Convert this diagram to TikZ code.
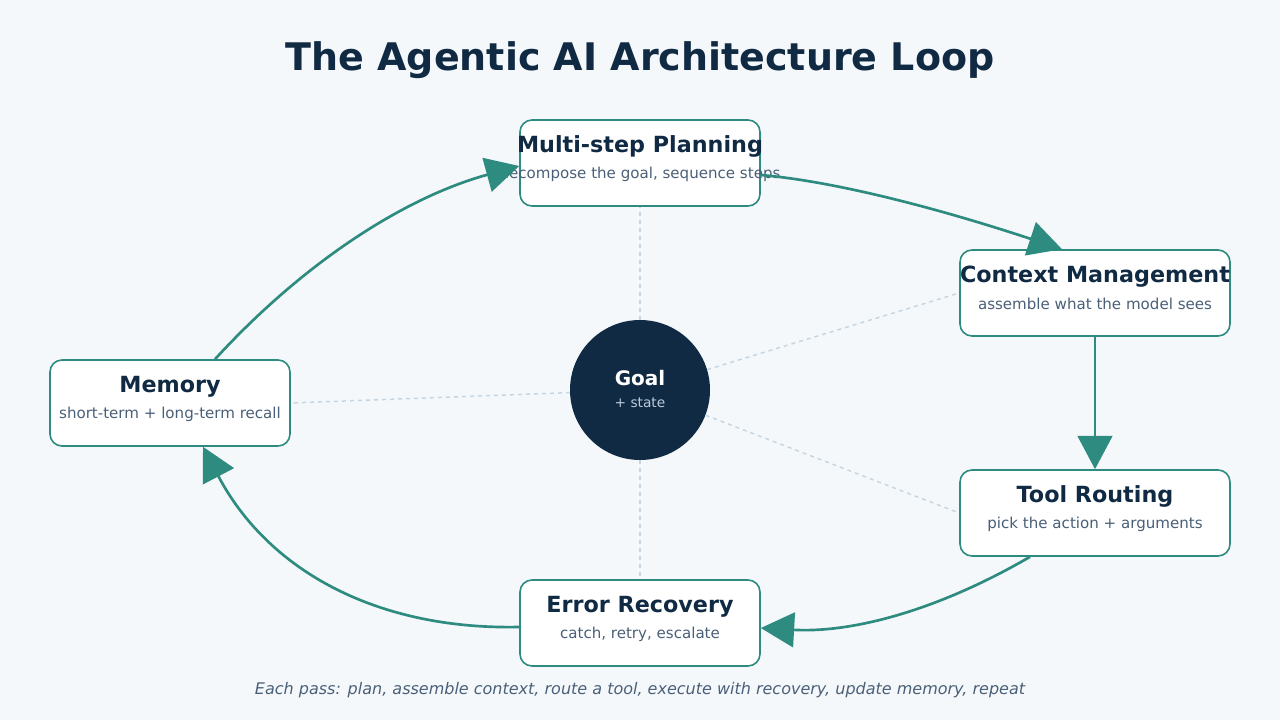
\documentclass[tikz,border=0pt]{standalone}
\usepackage{fontspec}
\setmainfont{DejaVu Sans}
\usetikzlibrary{arrows.meta,positioning}
\definecolor{loopbg}{HTML}{F5F8FB}
\definecolor{loopnavy}{HTML}{102A43}
\definecolor{loopteal}{HTML}{2E8B80}
\definecolor{loopgray}{HTML}{4A6078}
\definecolor{loopdash}{HTML}{C5D6E2}
\definecolor{loopsoft}{HTML}{BCCCDC}

\begin{document}
\begin{tikzpicture}[
  x=0.75pt,y=-0.75pt,
  stage/.style={draw=loopteal,line width=1.2pt,fill=white,rounded corners=9pt,minimum height=64.5pt,inner sep=0pt},
  head/.style={font=\fontsize{16.7}{20}\selectfont\bfseries,text=loopnavy,inner sep=0pt},
  sub/.style={font=\fontsize{11.3}{13}\selectfont,text=loopgray,inner sep=0pt},
  flow/.style={line width=2pt,loopteal,-{Triangle[length=25pt,width=26pt]}},
  link/.style={loopdash,line width=1.1pt,dash pattern=on 3pt off 3pt}
]
\fill[loopbg] (0,0) rectangle (1280,720);
\node[font=\fontsize{28.5}{34}\selectfont\bfseries,text=loopnavy] (title) at (640,60) {The Agentic AI Architecture Loop};

% the five stages of the loop
\foreach \n/\x/\y/\w/\t/\s in {plan/640/163/180/Multi-step Planning/{decompose the goal, sequence steps},
  ctx/1095/293/202.5/Context Management/assemble what the model sees,
  tool/1095/513/202.5/Tool Routing/pick the action + arguments,
  err/640/623/180/Error Recovery/{catch, retry, escalate},
  mem/170/403/180/Memory/short-term + long-term recall}{
  \node[stage,minimum width=\w pt] (\n) at (\x,\y) {};
  \node[head] (\n-t) at ([yshift=12.5pt]\n.center) {\t};
  \node[sub] (\n-s) at ([yshift=-8.5pt]\n.center) {\s};
}

\node[circle,fill=loopnavy,minimum size=105pt,inner sep=0pt] (goal) at (640,390) {};
\node[font=\fontsize{15}{18}\selectfont\bfseries,text=white] (goal-t) at (640,378) {Goal};
\node[font=\fontsize{10.3}{12}\selectfont,text=loopsoft] (goal-s) at (640,403) {+ state};

\draw[link] (goal) -- (plan.south);
\draw[link] (goal) -- (ctx.west);
\draw[link] (goal) -- (tool.west);
\draw[link] (goal) -- (err.north);
\draw[link] (goal) -- (mem.east);

% loop arrows
\draw[flow] ([xshift=33.75pt]mem.north) .. controls (305,261) and (406,197) .. ([yshift=-2.25pt]plan.west);
\draw[flow] ([yshift=-9pt]plan.east) .. controls (831,181) and (931,206) .. ([xshift=-24.75pt]ctx.north);
\draw[flow] (ctx.south) -- (tool.north);
\draw[flow] ([xshift=-48.75pt]tool.south) .. controls (935,612) and (850,633) .. ([yshift=-3.75pt]err.east);
\draw[flow] ([yshift=-3pt]err.west) .. controls (372,630) and (266,567) .. ([xshift=24.75pt]mem.south);

\node[font=\fontsize{12}{14}\selectfont\itshape,text=loopgray] (note) at (640,690) {Each pass: plan, assemble context, route a tool, execute with recovery, update memory, repeat};
\end{tikzpicture}
\end{document}
